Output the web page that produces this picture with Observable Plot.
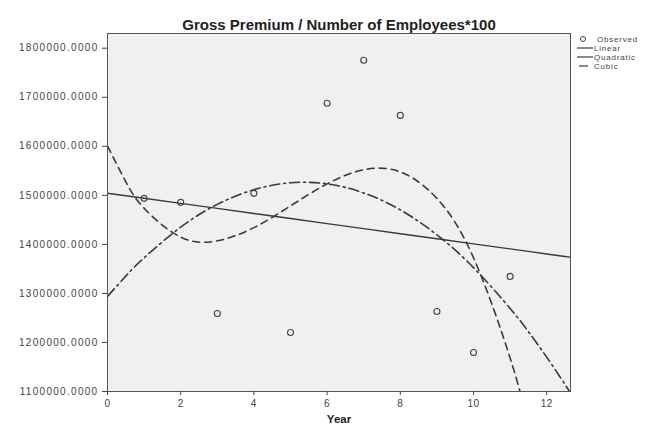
<!DOCTYPE html>
<html>
<head>
<meta charset="utf-8">
<script src="https://cdn.jsdelivr.net/npm/d3@7"></script>
<script src="https://cdn.jsdelivr.net/npm/@observablehq/plot@0.6"></script>
<style>
  html, body { margin: 0; padding: 0; background: #fff; }
  #chart svg { display: block; }
  #chart g[aria-label="y-axis tick label"] text { letter-spacing: 1.3px; }
  #chart g[aria-label="x-axis tick label"] text { letter-spacing: 0.5px; }
</style>
</head>
<body>
<div id="chart"></div>
<script>
// ---- data ----
const title = "Gross Premium / Number of Employees*100";
const xLabel = "Year";
const years = [1, 2, 3, 4, 5, 6, 7, 8, 9, 10, 11];
const observed = [1493900, 1485700, 1259000, 1504000, 1220400, 1687800, 1775500, 1663000, 1263000, 1179600, 1334700];

// fitted curves, sampled along the year axis
const fitYears = [0, 0.5, 1, 2, 3, 4, 5, 6, 7, 8, 9, 10, 11, 11.5, 12, 12.5, 12.65];
const linearFit = [1504300, 1499200, 1494000, 1483700, 1473400, 1463100, 1452700, 1442400, 1432100, 1421800, 1411500, 1401100, 1390800, 1385800, 1380500, 1375300, 1373800];
const quadraticFit = [1293900, 1335300, 1372600, 1435100, 1481500, 1511600, 1525600, 1523400, 1504900, 1470300, 1419500, 1352600, 1269400, 1222000, 1170100, 1114300, 1096800];
const cubicYears = [0, 0.5, 1, 2, 3, 4, 5, 6, 7, 8, 9, 10, 11, 11.5, 12];
const cubicFit = [1600500, 1527600, 1473700, 1414900, 1407300, 1434100, 1478400, 1523400, 1552100, 1547800, 1493700, 1372800, 1168300, 1029700, 863400];

const yTicks = [1100000, 1200000, 1300000, 1400000, 1500000, 1600000, 1700000, 1800000];
const xTicks = [0, 2, 4, 6, 8, 10, 12];
const legendItems = ["Observed", "Linear", "Quadratic", "Cubic"];

const linearRows = fitYears.map((x, i) => ({x, y: linearFit[i]}));
const quadRows = fitYears.map((x, i) => ({x, y: quadraticFit[i]}));
const cubicRows = cubicYears.map((x, i) => ({x, y: cubicFit[i]}));
const obsRows = years.map((x, i) => ({x, y: observed[i]}));

const ink = "#3a3a3a";

const plot = Plot.plot({
  width: 664,
  height: 430,
  marginLeft: 107,
  marginRight: 94,
  marginTop: 33,
  marginBottom: 39,
  style: {fontFamily: "'Liberation Sans', Arial, sans-serif", fontSize: "10px", color: "#444", background: "#fff"},
  x: {domain: [0, 12.65], ticks: xTicks, tickSize: 4, label: null, tickFormat: d3.format("d")},
  y: {domain: [1100000, 1830000], ticks: yTicks, tickSize: 5, label: null, tickFormat: d3.format(".4f")},
  marks: [
    Plot.frame({fill: "#f0f0f0", stroke: null}),
    Plot.line(linearRows, {x: "x", y: "y", stroke: ink, strokeWidth: 1.4, clip: true}),
    Plot.line(quadRows, {x: "x", y: "y", curve: "natural", stroke: ink, strokeWidth: 1.6, strokeDasharray: "10,4,2,4", clip: true}),
    Plot.line(cubicRows, {x: "x", y: "y", curve: "natural", stroke: ink, strokeWidth: 1.6, strokeDasharray: "7,5", clip: true}),
    Plot.dot(obsRows, {x: "x", y: "y", r: 3, stroke: "#444", strokeWidth: 1.1, fill: "none"}),
    Plot.frame({stroke: "#555", strokeWidth: 1}),
    Plot.axisX({ticks: xTicks, tickSize: 4, tickPadding: 4, label: null, tickFormat: d3.format("d")}),
    Plot.axisY({ticks: yTicks, tickSize: 5, tickPadding: 4, label: null, tickFormat: d3.format(".4f")}),
    Plot.text([title], {frameAnchor: "top", dy: -14, fontSize: 15, fontWeight: "bold", fill: "#222"}),
    Plot.text([xLabel], {frameAnchor: "bottom", dy: 31, fontSize: 11.5, fontWeight: "bold", fill: "#222"})
  ]
});

// legend (top right, outside the plot frame)
const svg = d3.select(plot);
const lg = svg.append("g")
  .attr("font-family", "'Liberation Sans', Arial, sans-serif")
  .attr("font-size", 8)
  .attr("text-anchor", "start")
  .attr("fill", "#444");
legendItems.forEach((name, i) => {
  const yy = 39 + i * 9;
  if (i === 0) {
    lg.append("circle").attr("cx", 583).attr("cy", yy).attr("r", 2.5).attr("fill", "none").attr("stroke", "#444");
  } else {
    lg.append("line").attr("x1", i === 3 ? 579 : 577).attr("x2", i === 3 ? 588 : 593).attr("y1", yy).attr("y2", yy)
      .attr("stroke", ink).attr("stroke-width", 1.2);
  }
  lg.append("text").attr("x", i === 0 ? 597 : 594).attr("y", yy).attr("dy", "0.35em")
    .attr("text-anchor", "start").attr("letter-spacing", "0.8px").text(name);
});

document.getElementById("chart").appendChild(plot);
</script>
</body>
</html>
